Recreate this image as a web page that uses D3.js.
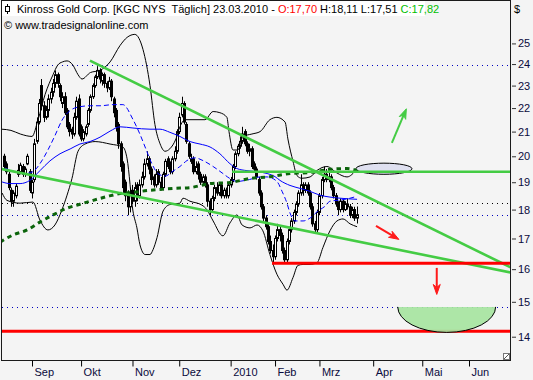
<!DOCTYPE html>
<html>
<head>
<meta charset="utf-8">
<script src="https://cdn.jsdelivr.net/npm/d3@7"></script>
<style>
  body { margin: 0; background: #f4f4f4; }
  svg { display: block; font-family: "Liberation Sans", Arial, sans-serif; }
</style>
</head>
<body>
<div id="chart"></div>
<script>
// Kinross Gold (KGC NYS) daily candles, 14.08.2009 - 23.03.2010
// bar index 0 = first trading day of September 2009
const firstBar = -12;

const opens = [20.0,19.7,19.3,18.7,18.3,18.5,19.3,19.4,19.6,19.3,19.7,19.4,
  18.6,19.1,20.6,21.4,23.0,22.1,21.6,21.9,22.4,22.7,
  23.1,23.5,23.0,22.2,22.5,21.9,21.3,21.1,20.9,21.6,
  22.4,21.2,20.7,20.9,21.3,21.9,22.5,23.0,23.4,23.7,
  23.2,23.5,23.1,22.9,23.2,22.4,21.9,21.3,20.5,19.7,
  19.0,18.6,18.1,18.7,18.3,18.9,18.5,18.9,19.2,19.7,
  19.9,19.5,19.2,18.9,19.4,19.0,18.8,19.3,19.9,19.6,
  19.4,19.9,20.2,21.0,21.7,22.2,21.3,20.5,19.8,19.9,
  19.4,19.7,19.3,19.0,19.2,18.9,18.3,18.0,18.4,18.8,
  18.6,18.9,18.5,18.7,18.5,18.9,19.1,19.6,20.1,20.4,
  20.6,21.0,20.5,20.2,20.3,19.7,19.5,19.1,18.6,18.1,
  17.7,17.4,16.9,16.6,16.4,17.0,17.3,17.1,16.6,16.3,
  16.9,17.3,17.6,17.9,18.2,18.6,18.9,18.7,18.9,18.6,
  18.1,17.5,17.3,17.9,18.5,19.1,19.3,19.1,19.2,18.8,
  18.5,18.2,18.0,18.3,18.0,18.2,18.1,17.8,18.0,17.70];

const highs = [20.1,19.8,19.4,18.8,18.7,18.95,19.7,19.75,19.7,19.6,20.1,19.5,
  19.1,20.7,21.6,22.4,23.3,22.3,22.1,22.6,22.9,23.3,
  23.7,23.6,23.1,22.7,22.7,22.0,21.4,21.2,21.8,22.5,
  22.6,21.3,21.1,21.3,22.0,22.6,23.1,23.5,23.9,23.8,
  23.6,23.6,23.2,23.4,23.3,22.5,22.0,21.4,20.6,19.8,
  19.1,18.7,18.8,18.9,19.0,19.0,19.1,19.4,19.9,20.2,
  20.0,19.6,19.3,19.5,19.5,19.2,19.4,19.9,20.0,19.8,
  20.0,20.4,21.1,21.8,22.5,22.3,21.4,20.6,20.1,20.0,
  19.8,19.8,19.4,19.3,19.3,19.0,18.4,18.5,18.9,19.0,
  19.0,19.0,18.8,18.8,19.0,19.2,19.7,20.2,20.5,20.8,
  21.2,21.1,20.6,20.5,20.4,19.8,19.6,19.2,18.7,18.2,
  17.8,17.5,17.1,16.8,17.1,17.5,17.4,17.2,16.7,17.0,
  17.4,17.7,18.0,18.3,18.7,19.3,19.0,19.0,19.0,18.7,
  18.2,17.6,18.0,18.6,19.2,19.6,19.5,19.4,19.3,18.9,
  18.6,18.3,18.4,18.35,18.3,18.4,18.2,18.1,18.1,18.11];

const lows = [19.5,19.3,18.7,18.1,18.1,18.4,19.2,19.3,19.2,19.2,19.65,18.6,
  18.4,19.0,20.5,21.3,21.9,21.4,21.5,21.6,22.2,22.5,
  22.9,22.9,22.3,22.0,21.7,21.1,20.8,20.7,20.8,21.5,
  20.8,20.6,20.6,20.8,21.2,21.8,22.4,22.9,23.3,23.1,
  23.0,22.9,22.7,22.8,22.3,21.6,21.0,20.3,19.4,18.6,
  18.3,17.8,17.9,18.2,18.1,18.3,18.4,18.8,19.1,19.6,
  19.3,18.9,18.8,18.8,18.9,18.7,18.7,19.2,19.5,19.3,
  19.3,19.8,20.1,20.9,21.6,21.3,20.5,19.9,19.7,19.3,
  19.3,19.1,18.9,18.9,18.8,18.1,17.8,17.9,18.3,18.5,
  18.5,18.4,18.4,18.4,18.4,18.8,19.0,19.5,20.0,20.3,
  20.5,20.4,20.1,20.0,19.5,19.4,19.1,18.5,18.0,17.6,
  17.3,16.8,16.5,16.2,16.3,16.9,16.9,16.5,16.2,16.2,
  16.8,17.2,17.5,17.8,18.1,18.5,18.5,18.6,18.5,18.0,
  17.4,17.2,17.2,17.8,18.4,19.0,19.0,19.0,18.7,18.4,
  18.1,17.8,17.9,17.9,17.95,18.0,17.7,17.7,17.6,17.51];

const closes = [19.6,19.4,18.8,18.3,18.6,18.85,19.45,19.65,19.3,19.5,20.0,18.7,
  19.0,20.5,21.4,22.2,22.1,21.6,21.9,22.4,22.7,23.1,
  23.5,23.1,22.5,22.5,21.8,21.2,21.0,20.9,21.6,22.3,
  20.9,20.7,21.0,21.2,21.9,22.5,23.0,23.4,23.7,23.3,
  23.5,23.1,22.9,23.2,22.5,21.8,21.2,20.5,19.6,18.8,
  18.5,18.1,18.6,18.3,18.8,18.5,18.9,19.2,19.7,19.9,
  19.5,19.1,18.9,19.3,19.0,18.8,19.3,19.8,19.6,19.4,
  19.9,20.2,21.0,21.6,22.2,21.4,20.6,20.0,19.9,19.4,
  19.6,19.3,19.0,19.2,18.9,18.3,18.0,18.4,18.8,18.6,
  18.9,18.5,18.7,18.5,18.9,19.1,19.6,20.1,20.4,20.6,
  20.9,20.5,20.2,20.3,19.6,19.5,19.2,18.6,18.1,17.7,
  17.4,16.9,16.6,16.4,17.0,17.3,17.1,16.6,16.3,16.9,
  17.3,17.6,17.9,18.2,18.6,18.9,18.7,18.9,18.6,18.1,
  17.5,17.3,17.9,18.5,19.1,19.3,19.1,19.2,18.8,18.5,
  18.2,18.0,18.3,18.0,18.2,18.1,17.8,18.0,17.7,17.82];

// indicators as [bar index, price]
const upperBand = [[-13,21.1],[-9,21.05],[-5,20.9],[0,20.8],[2.6,21.5],[5.6,22.6],[9,23.5],[11,23.95],
  [13,24.1],[15,24.15],[17.5,23.95],[19.7,23.5],[21.4,23.3],[25,23.6],[29,23.7],[33.4,24.1],[37.7,24.9],
  [40.7,25.3],[44,25.45],[47.5,24.7],[50.5,23.0],[52.6,21.3],[54.8,20.5],[56.9,20.2],[59,20.3],[61.6,20.7],
  [63.3,21.2],[65.5,21.5],[74,21.5],[77.5,21.85],[80.4,21.8],[83.4,21.6],[84.3,21.0],[86,20.25],[88.1,20.25],
  [90.3,20.8],[94.1,20.9],[97.6,21.0],[101.8,21.5],[104.8,21.6],[108.3,21.4],[109.5,20.7],[111.7,19.8],
  [113.4,19.25],[115.5,19.15],[119,19.2],[122,19.45],[126.2,19.6],[130.5,19.35],[134.8,19.2],[139,19.5]];

const lowerBand = [[-12.8,18.6],[-10.7,18.33],[-5.1,18.23],[0.4,18.27],[3.4,17.63],[6.8,17.29],[9.8,17.46],
  [12.8,17.99],[15,18.52],[17.1,19.14],[19.7,20.2],[22.7,20.49],[27,20.59],[33.4,20.49],[38.9,20.37],
  [40.7,19.9],[43.2,17.95],[44.9,17.36],[46.2,16.79],[48.4,16.47],[50.5,16.47],[51.8,16.63],[53.5,17.03],
  [56.1,17.95],[59,18.18],[63.3,18.23],[64.6,18.41],[67.6,18.3],[72.7,18.16],[74.9,17.99],[77.5,17.6],
  [81.7,17.09],[84.7,17.53],[87.7,17.81],[89.9,17.46],[93.3,17.36],[96.3,17.46],[98.8,17.26],[101.8,16.47],
  [104.8,15.84],[107.4,15.53],[109.1,15.35],[111.7,15.74],[113.8,16.12],[116,16.15],[119,16.15],[122,16.21],
  [124.5,16.7],[127.5,17.26],[130.5,17.6],[133.1,17.67],[136.1,17.5],[139.1,17.4]];

const sma20 = [[-11.6,19.54],[-7.3,19.4],[-3,19.33],[0.4,19.4],[3.4,19.71],[6.8,20.25],[9.8,20.83],
  [12.8,21.47],[16.3,21.89],[20.5,22.06],[24.8,22.1],[29.1,22.1],[34.7,22.15],[38.9,22.15],[43.2,21.51],
  [46.2,20.89],[48.4,20.37],[51.3,19.71],[53.9,19.33],[56.9,19.23],[60.3,19.42],[63.3,19.6],[66.3,19.83],
  [69.7,19.94],[73.2,19.83],[77.5,19.6],[81.7,19.33],[84.7,19.14],[87.7,19.03],[93,19.1],[97.6,19.2],
  [100.6,19.2],[104.8,19.03],[107,18.66],[109.1,18.23],[110.4,17.88],[112.5,17.6],[116,17.6],[119,17.7],
  [122.4,17.95],[125.4,18.12],[127.5,18.3],[131.8,18.34],[136.1,18.41],[139.1,18.48]];

const sma50 = [[-12.8,19.01],[-9.4,18.95],[-5.1,18.95],[-0.9,19.07],[3.4,19.44],[7.7,19.82],[12,20.1],
  [16.3,20.29],[20.5,20.49],[24.8,20.59],[29.1,20.77],[33.4,21.02],[37.7,21.2],[43.2,21.15],[50.5,21.1],
  [54.8,21.1],[59,20.97],[63.3,20.8],[67.6,20.59],[71.9,20.49],[76.2,20.37],[80.4,20.1],[84.7,19.71],
  [87.7,19.52],[92,19.44],[96.3,19.4],[100.6,19.33],[104,19.21],[106.1,19.07],[110.4,18.88],[114.7,18.77],
  [119,18.66],[123.2,18.52],[127.5,18.45],[131.8,18.41],[139.1,18.37]];

const sma200 = [[-13.7,16.88],[-8.1,17.12],[-2.1,17.29],[3.4,17.56],[9,17.81],[15,18.05],[20.5,18.19],
  [26.1,18.33],[32.1,18.47],[37.7,18.58],[43.2,18.62],[49.2,18.69],[54.8,18.73],[60.3,18.77],[67.6,18.8],
  [76.2,18.95],[84.7,18.99],[93.3,19.14],[101.8,19.21],[110.4,19.33],[119,19.37],[127.5,19.49],
  [134.8,19.52],[139.1,19.45]];

// axis labels
const monthStarts = [0, 21, 43, 63, 85, 104, 123, 146, 167, 187];
const monthLabels = ['Sep', 'Okt', 'Nov', 'Dez', '2010', 'Feb', 'Mrz', 'Apr', 'Mai', 'Jun'];
const priceTicks = [14, 15, 16, 17, 18, 19, 20, 21, 22, 23, 24, 25];

// horizontal dotted levels
const dottedLevels = [23.97, 18.24, 17.82, 14.85];
const dottedColors = ['#0000c0', '#000000', '#0000c0', '#0000c0'];

// drawn trend lines [[bar, price],[bar, price]]
const greenLines = [
  [[24.8, 24.16], [205, 16.05]],
  [[-14, 19.52], [205, 15.89]],
  [[85.6, 19.40], [205, 19.40]]
];
const redLines = [
  [[102.7, 16.19], [205, 16.19]],
  [[-14, 14.15], [205, 14.15]]
];
const arrows = [
  {from: [154.0, 20.54], to: [160.2, 21.97], color: '#44cc44'},
  {from: [147.2, 17.43], to: [157.0, 16.97], color: '#ff1a1a'},
  {from: [173.2, 16.04], to: [173.2, 15.22], color: '#ff1a1a'}
];
const targetEllipse = {left: 138.6, right: 162.6, top: 19.73, bottom: 19.30};
const targetBowl = {left: 156.5, right: 198.4, top: 14.85, bottom: 14.12};

// layout
const W = 533, H = 380;
const plotLeft = 2, plotRight = 510, plotTop = 1, plotBottom = 360;

const x = d3.scaleLinear().domain([0, 187]).range([32, 469]);
const y = d3.scaleLog().domain([13.37, 27.24]).range([plotBottom, 0]);

const svg = d3.select('#chart').append('svg')
  .attr('width', W)
  .attr('height', H);

svg.append('rect').attr('width', W).attr('height', H).attr('fill', '#f4f4f4');

svg.append('defs').append('clipPath').attr('id', 'plotclip')
  .append('rect')
  .attr('x', plotLeft).attr('y', plotTop)
  .attr('width', plotRight - plotLeft).attr('height', plotBottom - plotTop);

const plot = svg.append('g').attr('clip-path', 'url(#plotclip)');

// dotted levels
plot.selectAll('line.level')
  .data(dottedLevels)
  .enter()
  .append('line')
  .attr('x1', plotLeft).attr('x2', plotRight)
  .attr('y1', d => Math.round(y(d)) + 0.5)
  .attr('y2', d => Math.round(y(d)) + 0.5)
  .attr('stroke', (d, i) => dottedColors[i])
  .attr('stroke-dasharray', '1,4');

const line = d3.line()
  .x(d => x(d[0]))
  .y(d => y(d[1]))
  .curve(d3.curveMonotoneX);

// target ellipse (under the lines)
plot.append('ellipse')
  .attr('cx', (x(targetEllipse.left) + x(targetEllipse.right)) / 2)
  .attr('cy', (y(targetEllipse.top) + y(targetEllipse.bottom)) / 2)
  .attr('rx', (x(targetEllipse.right) - x(targetEllipse.left)) / 2)
  .attr('ry', (y(targetEllipse.bottom) - y(targetEllipse.top)) / 2)
  .attr('fill', '#dfe0f0')
  .attr('stroke', '#000');

// candles
const bars = opens.map((o, k) => ({i: firstBar + k, o: o, h: highs[k], l: lows[k], c: closes[k]}));

const candles = plot.append('g');
candles.selectAll('line')
  .data(bars)
  .enter()
  .append('line')
  .attr('x1', d => Math.round(x(d.i)) + 0.5)
  .attr('x2', d => Math.round(x(d.i)) + 0.5)
  .attr('y1', d => y(d.h))
  .attr('y2', d => y(d.l))
  .attr('stroke', '#000');

candles.selectAll('rect')
  .data(bars)
  .enter()
  .append('rect')
  .attr('x', d => Math.round(x(d.i)) - 0.5)
  .attr('width', 2)
  .attr('y', d => y(Math.max(d.o, d.c)))
  .attr('height', d => Math.max(1, y(Math.min(d.o, d.c)) - y(Math.max(d.o, d.c))))
  .attr('fill', d => d.c < d.o ? '#000' : '#fff')
  .attr('stroke', '#000');

// bollinger bands and averages
[upperBand, lowerBand].forEach(band => {
  plot.append('path').attr('d', line(band))
    .attr('fill', 'none').attr('stroke', '#000').attr('stroke-width', 1);
});

plot.append('path').attr('d', line(sma50))
  .attr('fill', 'none').attr('stroke', '#0000ff').attr('stroke-width', 1);

plot.append('path').attr('d', line(sma20))
  .attr('fill', 'none').attr('stroke', '#0000ff').attr('stroke-width', 1)
  .attr('stroke-dasharray', '5,3');

plot.append('path').attr('d', line(sma200))
  .attr('fill', 'none').attr('stroke', '#0b640b').attr('stroke-width', 3)
  .attr('stroke-dasharray', '4.5,4');

// trend lines
const straight = d3.line().x(d => x(d[0])).y(d => y(d[1]));
greenLines.forEach(l => {
  plot.append('path').attr('d', straight(l))
    .attr('stroke', '#44cc44').attr('stroke-width', 2.6).attr('fill', 'none');
});

// target bowl below
const bl = x(targetBowl.left), br = x(targetBowl.right);
const bt = y(targetBowl.top), bb = y(targetBowl.bottom);
const brx = (br - bl) / 2, bry = bb - bt;

redLines.forEach(l => {
  plot.append('path').attr('d', straight(l))
    .attr('stroke', '#ff0000').attr('stroke-width', 3).attr('fill', 'none');
});

plot.append('path')
  .attr('d', `M${bl},${bt}A${brx},${bry} 0 0 0 ${br},${bt}Z`)
  .attr('fill', '#a6e4a0')
  .attr('fill-opacity', 0.92);
plot.append('path')
  .attr('d', `M${bl},${bt}A${brx},${bry} 0 0 0 ${br},${bt}`)
  .attr('fill', 'none')
  .attr('stroke', '#000');

// arrows
arrows.forEach(a => {
  const x0 = x(a.from[0]), y0 = y(a.from[1]);
  const x1 = x(a.to[0]), y1 = y(a.to[1]);
  const ang = Math.atan2(y1 - y0, x1 - x0);
  const len = 10, hw = 3.5;
  const cos = Math.cos(ang), sin = Math.sin(ang);
  const bx = x1 - len * cos, by = y1 - len * sin;
  const nx = x1 - 0.7 * len * cos, ny = y1 - 0.7 * len * sin;
  plot.append('line')
    .attr('x1', x0).attr('y1', y0).attr('x2', nx).attr('y2', ny)
    .attr('stroke', a.color).attr('stroke-width', 2);
  plot.append('path')
    .attr('d', `M${x1},${y1}L${bx + hw * sin},${by - hw * cos}L${nx},${ny}L${bx - hw * sin},${by + hw * cos}Z`)
    .attr('fill', a.color)
    .attr('stroke', a.color)
    .attr('stroke-width', 1);
});

// frame
svg.append('rect')
  .attr('x', 1.5).attr('y', 0.5)
  .attr('width', plotRight - 1.5 + 0.5).attr('height', plotBottom)
  .attr('fill', 'none')
  .attr('stroke', '#1a1a1a');

// resize corner glyph
svg.append('rect').attr('x', 503.5).attr('y', 353.5).attr('width', 6).attr('height', 6)
  .attr('fill', '#fff').attr('stroke', '#777');
svg.append('line').attr('x1', 504).attr('y1', 359).attr('x2', 509).attr('y2', 354)
  .attr('stroke', '#555');

// x axis
const xAxis = svg.append('g')
  .attr('transform', `translate(0,${plotBottom + 0.5})`)
  .call(d3.axisBottom(x).tickValues(monthStarts).tickFormat((d, i) => monthLabels[i]).tickSize(6));
xAxis.select('.domain').remove();
xAxis.selectAll('.tick line').attr('stroke', '#000');
xAxis.selectAll('.tick text')
  .attr('text-anchor', 'start')
  .attr('x', 2)
  .attr('y', 8)
  .attr('dy', '0.71em')
  .attr('fill', '#0a0a3c')
  .style('font-size', '11px')
  .style('font-family', '"Liberation Sans", Arial, sans-serif');

// y axis
const yAxis = svg.append('g')
  .attr('transform', `translate(${plotRight + 2},0)`)
  .call(d3.axisRight(y).tickValues(priceTicks).tickFormat(d3.format('d')).tickSize(4).tickPadding(2));
yAxis.select('.domain').remove();
yAxis.selectAll('.tick line').attr('stroke', '#333');
yAxis.selectAll('.tick text')
  .attr('fill', '#0a0a3c')
  .style('font-size', '11px')
  .style('font-family', '"Liberation Sans", Arial, sans-serif');

// header
svg.append('rect').attr('x', 2).attr('y', 1).attr('width', 423).attr('height', 15).attr('fill', '#fff');
svg.append('line').attr('x1', 7.5).attr('x2', 7.5).attr('y1', 4).attr('y2', 14).attr('stroke', '#000');
svg.append('rect').attr('x', 5.5).attr('y', 6.5).attr('width', 4).attr('height', 5)
  .attr('fill', '#fff').attr('stroke', '#000');

const title = svg.append('text')
  .attr('x', 17).attr('y', 13)
  .style('font-size', '11px')
  .attr('fill', '#000');
title.append('tspan').text('Kinross Gold Corp. [KGC NYS\u00a0 Täglich] 23.03.2010 - ');
title.append('tspan').attr('fill', '#ff0000').text('O:17,70');
title.append('tspan').text(' H:18,11 L:17,51 ');
title.append('tspan').attr('fill', '#00c000').text('C:17,82');

svg.append('text')
  .attr('x', 4).attr('y', 29)
  .style('font-size', '11px')
  .attr('fill', '#000')
  .text('© www.tradesignalonline.com');

svg.append('text')
  .attr('x', 514).attr('y', 13)
  .style('font-size', '11px')
  .attr('fill', '#000')
  .text('$');
</script>
</body>
</html>
